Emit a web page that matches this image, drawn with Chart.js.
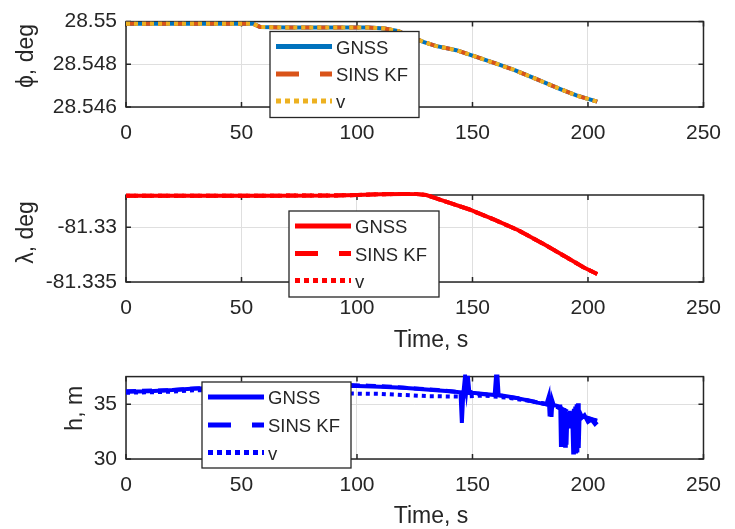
<!DOCTYPE html>
<html>
<head>
<meta charset="utf-8">
<script src="https://cdn.jsdelivr.net/npm/chart.js@4.4.1/dist/chart.umd.min.js"></script>
<style>
  html, body { margin: 0; padding: 0; background: #fff; }
  #wrap { position: relative; width: 735px; height: 529px; overflow: hidden; }
  #wrap canvas { position: absolute; left: 0; }
</style>
</head>
<body>
<div id="wrap">
  <canvas id="latChart" width="735" height="160" style="top:0"></canvas>
  <canvas id="lonChart" width="735" height="190" style="top:170px"></canvas>
  <canvas id="altChart" width="735" height="174" style="top:355px"></canvas>
</div>
<script>
const seriesNames = ["GNSS", "SINS KF", "v"];
const timeTicks = [0, 50, 100, 150, 200, 250];

// latitude, deg (the three tracks lie on top of each other)
const latTicks = [28.546, 28.548, 28.55];
const latTime = [0, 20, 40, 55, 58, 70, 90, 105, 112, 118, 123, 129, 134, 143, 150, 160, 168, 178, 188, 195, 204];
const latGnss = [28.5499, 28.5499, 28.5499, 28.5499, 28.54975, 28.54972, 28.54972, 28.54972, 28.54968, 28.54955,
  28.5493, 28.54904, 28.54886, 28.54866, 28.54841, 28.54804, 28.54774, 28.54729, 28.54684, 28.54654, 28.54625];
const latKf = latGnss;
const latV = latGnss;

// longitude, deg
const lonTicks = [-81.335, -81.33];
const lonTime = [0, 30, 60, 90, 100, 110, 120, 126, 130, 138.5, 148.4, 159.7, 169.6, 180.8, 190.7, 198, 204];
const lonGnss = [-81.32712, -81.32712, -81.32711, -81.3271, -81.32705, -81.32698, -81.32696, -81.32697, -81.32705,
  -81.32766, -81.32835, -81.32933, -81.33025, -81.33153, -81.33274, -81.33365, -81.33427];
const lonKf = lonGnss;
const lonV = lonGnss;

// height, m
const altTicks = [30, 35];
const altGnssTime = [0, 10, 20, 30, 45, 60, 75, 90, 100, 110, 120, 130, 140, 144.8, 145.4, 146, 146.8, 147.4, 148, 148.6,
  150, 155, 159.6, 160.2, 160.8, 161.3, 166, 172, 178, 182, 183, 183.4, 183.8, 184.2, 184.6, 185.2, 186, 187.5,
  188, 188.3, 188.6, 188.9, 189.2, 189.5, 189.8, 190.1, 190.4, 190.7, 191.1, 191.7, 192.1, 192.5, 192.9, 193.3,
  193.6, 193.9, 194.2, 194.5, 194.8, 195.1, 195.4, 195.7, 196.0, 196.4, 197.5, 198.5, 200, 201.5, 203, 204];
const altGnss = [36.15, 36.2, 36.3, 36.45, 36.5, 36.55, 36.6, 36.7, 36.68, 36.6, 36.5, 36.35, 36.2, 36.1, 33.3, 35.9, 37.6,
  36.4, 37.6, 36.2, 36.05, 35.95, 35.85, 37.6, 37.6, 35.85, 35.7, 35.45, 35.15, 35.0, 35.7, 33.9, 35.6, 33.85, 35.3,
  34.9, 34.9, 34.8, 34.8, 31.1, 34.7, 31.1, 34.6, 31.1, 34.5, 31.2, 34.3, 31.3, 34.2, 32.9, 34.4, 32.8, 34.3, 33.0,
  30.6, 34.6, 30.5, 34.8, 30.5, 35.0, 30.6, 35.1, 31.0, 34.3, 33.8, 34.0, 33.4, 33.6, 33.2, 33.4];
const altKfTime = [0, 20, 30, 50, 70, 90, 105, 115, 125, 135, 145, 150, 160, 170, 180, 186, 192, 198, 204];
const altKf = [36.2, 36.3, 36.45, 36.55, 36.75, 36.8, 36.7, 36.6, 36.45, 36.3, 36.1, 36.0, 35.85, 35.55, 35.1, 34.8, 34.3, 33.9, 33.5];
const altVTime = [0, 20, 30, 40, 55, 70, 90, 110, 130, 145, 155, 165, 175, 185, 195, 204];
const altV = [36.05, 36.15, 36.3, 36.2, 36.0, 36.0, 36.0, 35.95, 35.75, 35.7, 35.8, 35.6, 35.3, 34.9, 34.0, 33.5];

const FONT = '"Liberation Sans", Arial, Helvetica, sans-serif';
const INK = "#262626";
const lineDash = [[], [10, 6], [4, 4]];
const legendDash = [[], [23, 21], [5, 4]];

// axes box with inward ticks, legend box and axis labels, MATLAB style
const framePlugin = {
  id: "frame",
  beforeDatasetsDraw(chart) {
    const { ctx, chartArea: a, scales: { x, y } } = chart;
    ctx.save();
    ctx.strokeStyle = INK;
    ctx.lineWidth = 1.5;
    ctx.strokeRect(a.left, a.top, a.right - a.left, a.bottom - a.top);
    ctx.beginPath();
    x.ticks.forEach(t => {
      const px = x.getPixelForValue(t.value);
      ctx.moveTo(px, a.bottom); ctx.lineTo(px, a.bottom - 5);
      ctx.moveTo(px, a.top); ctx.lineTo(px, a.top + 5);
    });
    y.ticks.forEach(t => {
      const py = y.getPixelForValue(t.value);
      ctx.moveTo(a.left, py); ctx.lineTo(a.left + 5, py);
      ctx.moveTo(a.right, py); ctx.lineTo(a.right - 5, py);
    });
    ctx.stroke();
    ctx.restore();
  },
  afterDraw(chart, args, opts) {
    const { ctx } = chart;
    ctx.save();
    const lg = opts.legend;
    ctx.fillStyle = "#fff";
    ctx.fillRect(lg.x, lg.y, lg.w, lg.h);
    ctx.strokeStyle = INK;
    ctx.lineWidth = 1.3;
    ctx.strokeRect(lg.x, lg.y, lg.w, lg.h);
    chart.data.datasets.forEach((ds, i) => {
      const cy = lg.y + lg.rows[i];
      ctx.setLineDash(legendDash[i]);
      ctx.strokeStyle = ds.borderColor;
      ctx.lineWidth = 5;
      ctx.beginPath();
      ctx.moveTo(lg.x + 6, cy);
      ctx.lineTo(lg.x + 62, cy);
      ctx.stroke();
      ctx.setLineDash([]);
      ctx.fillStyle = INK;
      ctx.font = "18.5px " + FONT;
      ctx.textBaseline = "middle";
      ctx.textAlign = "left";
      ctx.fillText(ds.label, lg.x + 66, cy + 2);
    });

    ctx.fillStyle = INK;
    ctx.font = "23px " + FONT;
    ctx.textAlign = "center";
    ctx.textBaseline = "alphabetic";
    const yt = opts.yTitle;
    ctx.save();
    ctx.translate(yt.x, yt.y);
    ctx.rotate(-Math.PI / 2);
    ctx.fillText(yt.text, 0, 0);
    ctx.restore();
    if (opts.xTitle) ctx.fillText(opts.xTitle.text, opts.xTitle.x, opts.xTitle.y);
    ctx.restore();
  }
};

function pts(ts, vs) {
  return ts.map((t, k) => ({ x: t, y: vs[k] }));
}

function panel(id, p) {
  return new Chart(document.getElementById(id), {
    type: "line",
    data: {
      datasets: p.series.map((s, i) => ({
        label: seriesNames[i],
        data: pts(s[0], s[1]),
        borderColor: p.colors[i],
        borderDash: lineDash[i],
        borderWidth: 4,
        borderCapStyle: "butt",
        pointRadius: 0,
        tension: 0,
        clip: p.clip,
        order: 2 - i
      }))
    },
    options: {
      responsive: false,
      animation: false,
      events: [],
      layout: { padding: { top: p.top, right: 20, left: 0, bottom: 0 } },
      plugins: {
        legend: { display: false },
        tooltip: { enabled: false },
        frame: { legend: p.legend, yTitle: p.yTitle, xTitle: p.xTitle }
      },
      scales: {
        x: {
          type: "linear",
          min: 0,
          max: 250,
          afterBuildTicks: s => { s.ticks = timeTicks.map(v => ({ value: v })); },
          afterFit: s => { s.height = p.xh; },
          border: { display: false },
          grid: { color: "#dfdfdf", lineWidth: 1, drawTicks: false },
          ticks: { padding: 14, color: INK, font: { family: FONT, size: 21 } }
        },
        y: {
          type: "linear",
          min: p.min,
          max: p.max,
          afterBuildTicks: s => { s.ticks = p.ticks.map(v => ({ value: v })); },
          afterFit: s => { s.width = 126; },
          border: { display: false },
          grid: { color: "#dfdfdf", lineWidth: 1, drawTicks: false },
          ticks: {
            padding: 9,
            color: INK,
            font: { family: FONT, size: 21 },
            callback: v => String(+v.toFixed(3))
          }
        }
      }
    },
    plugins: [framePlugin]
  });
}

panel("latChart", {
  series: [[latTime, latGnss], [latTime, latKf], [latTime, latV]],
  colors: ["#0072BD", "#D95319", "#EDB120"],
  ticks: latTicks, min: 28.546, max: 28.55,
  top: 18, xh: 53, clip: 2,
  legend: { x: 270, y: 31.5, w: 149, h: 86, rows: [15, 42.5, 69.5] },
  yTitle: { text: "ϕ, deg", x: 33, y: 56 }
});

panel("lonChart", {
  series: [[lonTime, lonGnss], [lonTime, lonKf], [lonTime, lonV]],
  colors: ["#FF0000", "#FF0000", "#FF0000"],
  ticks: lonTicks, min: -81.335, max: -81.32705,
  top: 25, xh: 78, clip: 5,
  legend: { x: 289, y: 41, w: 150, h: 86, rows: [15, 42.5, 69.5] },
  yTitle: { text: "λ, deg", x: 33, y: 62.5 },
  xTitle: { text: "Time, s", x: 431, y: 176.5 }
});

panel("altChart", {
  series: [[altGnssTime, altGnss], [altKfTime, altKf], [altVTime, altV]],
  colors: ["#0000FF", "#0000FF", "#0000FF"],
  ticks: altTicks, min: 30, max: 37.53,
  top: 17.7, xh: 70, clip: 2,
  legend: { x: 202, y: 27, w: 149, h: 86, rows: [15, 43, 70.5] },
  yTitle: { text: "h, m", x: 81.7, y: 53.3 },
  xTitle: { text: "Time, s", x: 431, y: 168 }
});
</script>
</body>
</html>
